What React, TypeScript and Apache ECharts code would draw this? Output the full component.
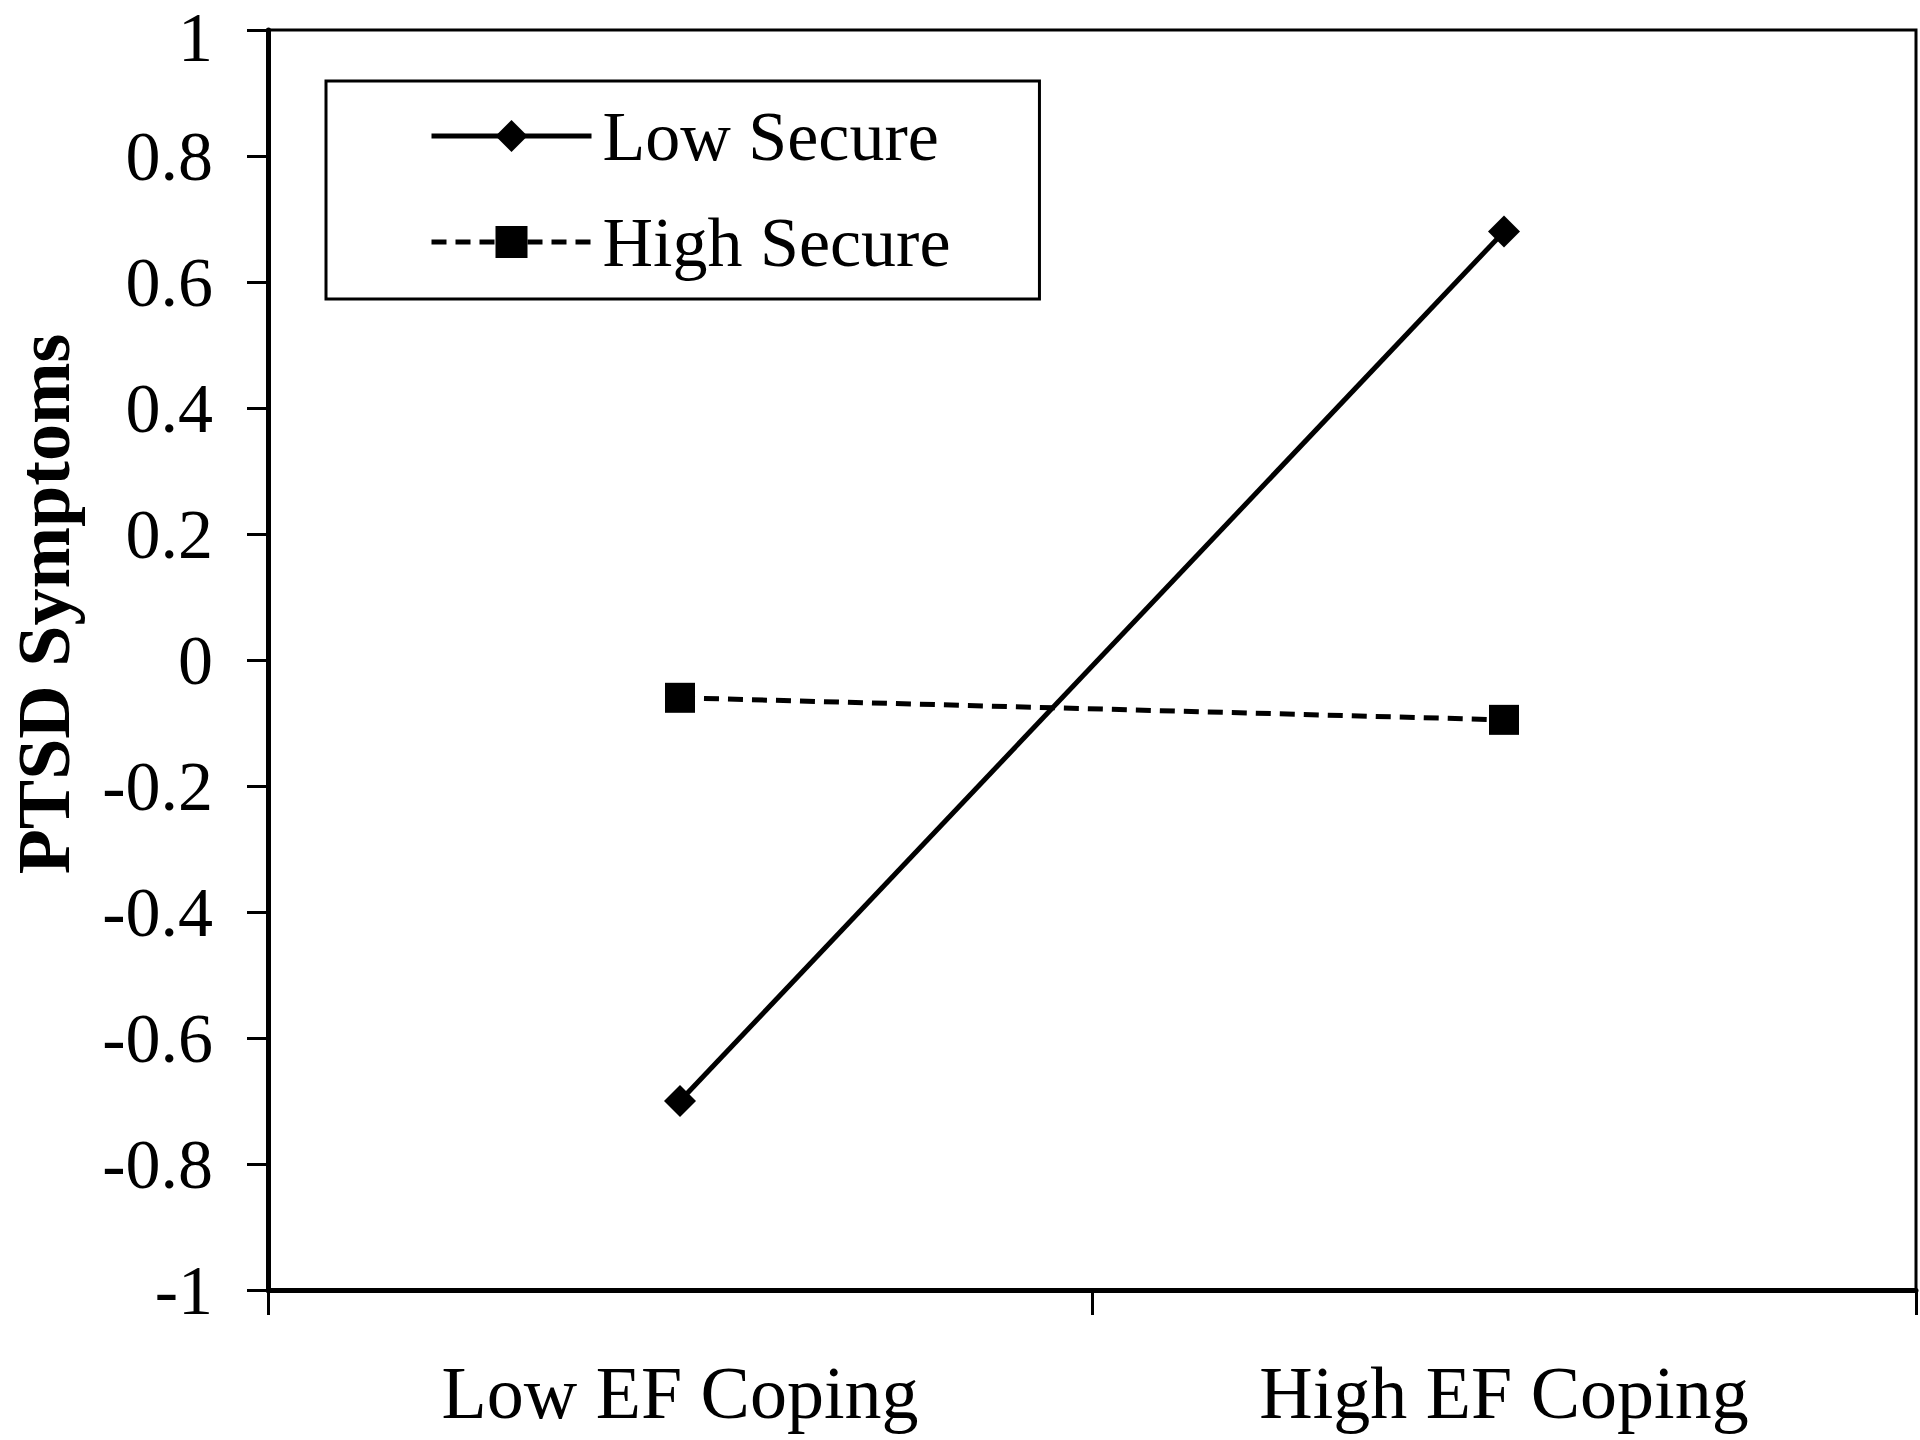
import React, { useEffect, useRef } from "react";
import * as echarts from "echarts";

const categories = ["Low EF Coping", "High EF Coping"];
const lowSecure = [-0.7, 0.68];
const highSecure = [-0.06, -0.095];
const seriesNames = ["Low Secure", "High Secure"];
const yAxisName = "PTSD Symptoms";

const FONT = "'Liberation Serif', 'Times New Roman', serif";

export default function App() {
  const ref = useRef<HTMLDivElement>(null);
  useEffect(() => {
    document.body.style.margin = "0";
    const chart = echarts.init(ref.current!, null, { renderer: "svg" });
    chart.setOption({
      animation: false,
      backgroundColor: "#ffffff",
      grid: {
        left: 268,
        top: 30,
        width: 1648,
        height: 1260,
        show: true,
        borderColor: "#000",
        borderWidth: 3,
        containLabel: false,
        outerBoundsMode: "none",
      },
      legend: {
        orient: "vertical",
        left: 326,
        top: 81,
        padding: [20, 89, 22, 103],
        itemGap: 36,
        itemWidth: 160,
        itemHeight: 40,
        borderColor: "#000",
        borderWidth: 3,
        backgroundColor: "#fff",
        lineStyle: { width: 5 },
        textStyle: { fontSize: 70, fontFamily: FONT, color: "#000", padding: [0, 0, 0, 6] },
        data: seriesNames,
      },
      graphic: [
        {
          type: "text",
          x: 44,
          y: 604,
          rotation: Math.PI / 2,
          style: {
            text: yAxisName,
            fontSize: 74,
            lineHeight: 60,
            fontWeight: "bold",
            fontFamily: FONT,
            fill: "#000",
            textAlign: "center",
            textVerticalAlign: "middle",
          },
        },
      ],
      xAxis: {
        type: "category",
        data: categories,
        boundaryGap: true,
        axisLine: { onZero: false, lineStyle: { color: "#000", width: 5 } },
        axisTick: { show: true, length: 25, lineStyle: { color: "#000", width: 3 } },
        axisLabel: { fontSize: 74, fontFamily: FONT, color: "#000", margin: 66 },
        splitLine: { show: false },
      },
      yAxis: {
        type: "value",
        min: -1,
        max: 1,
        interval: 0.2,
        axisLine: { show: true, lineStyle: { color: "#000", width: 5 } },
        axisTick: { show: true, length: 21, lineStyle: { color: "#000", width: 3 } },
        axisLabel: {
          fontSize: 70,
          lineHeight: 56,
          fontFamily: FONT,
          color: "#000",
          margin: 55,
          formatter: (v: number) => {
            const s = String(parseFloat(v.toFixed(1)));
            return v >= 0.999 ? "{top|" + s + "}" : s;
          },
          rich: {
            top: { fontSize: 70, lineHeight: 56, fontFamily: FONT, color: "#000", padding: [14, 0, 0, 0] },
          },
        },
        splitLine: { show: false },
      },
      series: [
        {
          name: seriesNames[0],
          type: "line",
          data: lowSecure,
          symbol: "diamond",
          symbolSize: 32,
          itemStyle: { color: "#000" },
          lineStyle: { color: "#000", width: 5, type: "solid" },
        },
        {
          name: seriesNames[1],
          type: "line",
          data: highSecure,
          symbol: "rect",
          symbolSize: 30,
          itemStyle: { color: "#000" },
          lineStyle: { color: "#000", width: 5, type: [15, 9] },
        },
      ],
    });
    return () => chart.dispose();
  }, []);
  return (
    <div
      ref={ref}
      style={{ position: "fixed", left: 0, top: 0, width: 1920, height: 1440 }}
    />
  );
}
